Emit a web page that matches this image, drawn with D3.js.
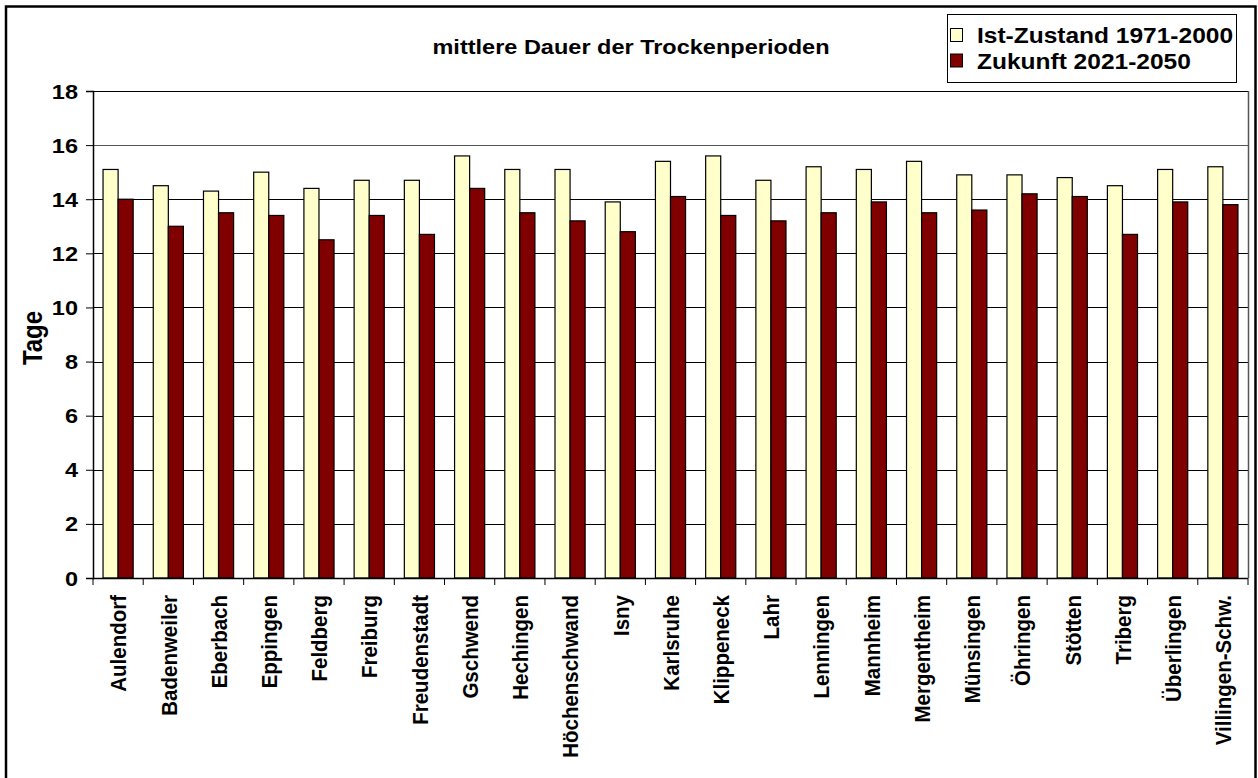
<!DOCTYPE html>
<html>
<head>
<meta charset="utf-8">
<script src="https://cdn.jsdelivr.net/npm/d3@7"></script>
<style>
  body { margin: 0; background: #fff; }
  text { font-family: "Liberation Sans", Arial, sans-serif; font-weight: bold; fill: #000; }
</style>
</head>
<body>
<div id="chart"></div>
<script>
// stations (x axis)
var stations = ["Aulendorf", "Badenweiler", "Eberbach", "Eppingen", "Feldberg", "Freiburg",
    "Freudenstadt", "Gschwend", "Hechingen", "Höchenschwand", "Isny", "Karlsruhe",
    "Klippeneck", "Lahr", "Lenningen", "Mannheim", "Mergentheim", "Münsingen",
    "Öhringen", "Stötten", "Triberg", "Überlingen", "Villingen-Schw."];

// mittlere Dauer der Trockenperioden (Tage)
var istZustand = [15.1, 14.5, 14.3, 15.0, 14.4, 14.7, 14.7, 15.6, 15.1, 15.1, 13.9, 15.4,
    15.6, 14.7, 15.2, 15.1, 15.4, 14.9, 14.9, 14.8, 14.5, 15.1, 15.2];
var zukunft = [14.0, 13.0, 13.5, 13.4, 12.5, 13.4, 12.7, 14.4, 13.5, 13.2, 12.8, 14.1,
    13.4, 13.2, 13.5, 13.9, 13.5, 13.6, 14.2, 14.1, 12.7, 13.9, 13.8];

var seriesNames = ["Ist-Zustand 1971-2000", "Zukunft 2021-2050"];
var seriesColors = ["#FFFFCC", "#800000"];
var yTicks = [0, 2, 4, 6, 8, 10, 12, 14, 16, 18];

var W = 1258, H = 778;
var plot = {left: 93, right: 1248, top: 91, bottom: 578};
var sx = 1.12; // text in the reference is a bit wider than plain Arial

var svg = d3.select("#chart").append("svg")
    .attr("width", W)
    .attr("height", H);

svg.append("rect").attr("width", W).attr("height", H).attr("fill", "#fff");

var xScale = d3.scaleBand()
    .domain(stations)
    .range([plot.left, plot.right])
    .paddingInner(0.4)
    .paddingOuter(0.2);

var xSub = d3.scaleBand()
    .domain([0, 1])
    .range([0, xScale.bandwidth()]);

var yScale = d3.scaleLinear()
    .domain([0, 18])
    .range([plot.bottom, plot.top]);

// gridlines
svg.append("g").selectAll("line")
    .data(yTicks.filter(function(d) { return d > 0; }))
    .enter().append("line")
    .attr("x1", plot.left).attr("x2", plot.right)
    .attr("y1", function(d) { return Math.round(yScale(d)) + 0.5; })
    .attr("y2", function(d) { return Math.round(yScale(d)) + 0.5; })
    .attr("stroke", function(d) { return d === 16 ? "#555" : "#000"; })
    .attr("stroke-width", 1);

// plot area border (right side)
svg.append("line")
    .attr("x1", plot.right + 0.5).attr("x2", plot.right + 0.5)
    .attr("y1", plot.top).attr("y2", plot.bottom)
    .attr("stroke", "#555").attr("stroke-width", 1.5);

// bars
var data = stations.map(function(s, i) { return {name: s, values: [istZustand[i], zukunft[i]]}; });

var groups = svg.append("g").selectAll("g")
    .data(data)
    .enter().append("g")
    .attr("transform", function(d) { return "translate(" + xScale(d.name) + ",0)"; });

groups.selectAll("rect")
    .data(function(d) { return d.values; })
    .enter().append("rect")
    .attr("x", function(d, i) { return xSub(i); })
    .attr("y", function(d) { return yScale(d); })
    .attr("width", xSub.bandwidth())
    .attr("height", function(d) { return yScale(0) - yScale(d); })
    .attr("fill", function(d, i) { return seriesColors[i]; })
    .attr("stroke", "#000")
    .attr("stroke-width", 1.2);

// y axis
var yAxis = svg.append("g")
    .attr("transform", "translate(" + plot.left + ",0)")
    .call(d3.axisLeft(yScale).tickValues(yTicks).tickSize(7).tickFormat(""));
yAxis.select(".domain").attr("stroke-width", 1.5);

svg.append("g").selectAll("text")
    .data(yTicks)
    .enter().append("text")
    .attr("transform", function(d) { return "translate(78," + (yScale(d) + 7.5) + ") scale(" + sx + ",1)"; })
    .attr("text-anchor", "end")
    .attr("font-size", 21)
    .text(function(d) { return d; });

// x axis: ticks between categories
var step = xScale.step();
var xTickPos = d3.range(stations.length + 1).map(function(i) { return plot.left + i * step; });
svg.append("line")
    .attr("x1", plot.left).attr("x2", plot.right)
    .attr("y1", plot.bottom + 0.5).attr("y2", plot.bottom + 0.5)
    .attr("stroke", "#000").attr("stroke-width", 1.5);
svg.append("g").selectAll("line")
    .data(xTickPos)
    .enter().append("line")
    .attr("x1", function(d) { return d; }).attr("x2", function(d) { return d; })
    .attr("y1", plot.bottom).attr("y2", plot.bottom + 7)
    .attr("stroke", "#000").attr("stroke-width", 1);

svg.append("g").selectAll("text")
    .data(stations)
    .enter().append("text")
    .attr("transform", function(d) {
        return "translate(" + (xScale(d) + xScale.bandwidth() / 2) + "," + (plot.bottom + 17) + ") scale(" + sx + ",1) rotate(-90)";
    })
    .attr("text-anchor", "end")
    .attr("dy", "0.36em")
    .attr("font-size", 20.5)
    .text(function(d) { return d; });

// y axis title
svg.append("text")
    .attr("transform", "translate(42,338) scale(" + sx + ",1) rotate(-90)")
    .attr("text-anchor", "middle")
    .attr("font-size", 24)
    .text("Tage");

// chart title
svg.append("text")
    .attr("transform", "translate(631,54) scale(" + sx + ",1)")
    .attr("text-anchor", "middle")
    .attr("font-size", 21)
    .text("mittlere Dauer der Trockenperioden");

// legend
var legend = svg.append("g");
legend.append("rect")
    .attr("x", 947.5).attr("y", 14.5)
    .attr("width", 289).attr("height", 68)
    .attr("fill", "#fff").attr("stroke", "#000").attr("stroke-width", 1);

var items = legend.selectAll("g")
    .data(seriesNames)
    .enter().append("g")
    .attr("transform", function(d, i) { return "translate(0," + (i * 25.5) + ")"; });
items.append("rect")
    .attr("x", 950.5).attr("y", 28.5)
    .attr("width", 12).attr("height", 13)
    .attr("fill", function(d, i) { return seriesColors[i]; })
    .attr("stroke", "#000").attr("stroke-width", 1);
items.append("text")
    .attr("transform", "translate(977,43) scale(1.14,1)")
    .attr("font-size", 21.5)
    .text(function(d) { return d; });

// outer frame
svg.append("rect")
    .attr("x", 6).attr("y", 6.5)
    .attr("width", 1249.5).attr("height", 820)
    .attr("fill", "none")
    .attr("stroke", "#000")
    .attr("stroke-width", 2.5);
</script>
</body>
</html>
